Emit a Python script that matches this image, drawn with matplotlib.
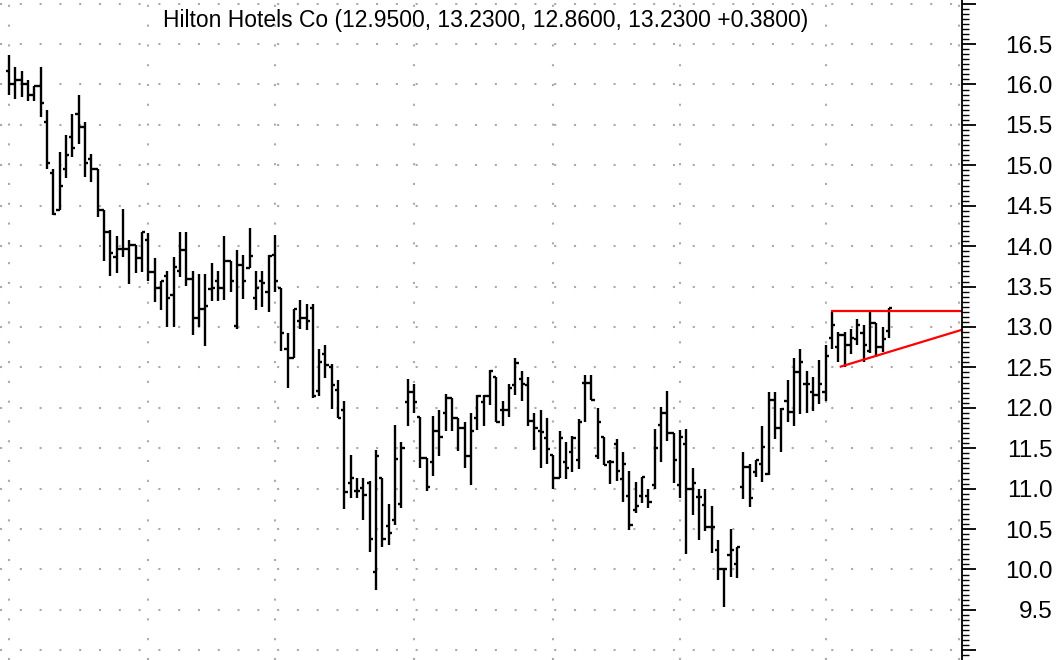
import numpy as np
import matplotlib
matplotlib.use('Agg')
import matplotlib.pyplot as plt
from matplotlib.ticker import MultipleLocator, FixedLocator

plt.rcParams['font.family'] = ['Liberation Sans', 'DejaVu Sans']

title = 'Hilton Hotels Co (12.9500, 13.2300, 12.8600, 13.2300 +0.3800)'

opens = [16.17, 16.0, 16.06, 16.0, 15.87, 15.98, 15.54, 14.91, 14.45, 14.96,
         15.35, 15.63, 15.48, 15.08, 14.96, 14.45, 14.17, 13.86, 13.96, 13.96,
         14.01, 13.85, 14.08, 13.68, 13.48, 13.63, 13.4, 13.69, 13.95, 13.59,
         13.11, 13.22, 13.47, 13.57, 13.48, 13.81, 13.01, 13.77, 13.73, 13.36,
         13.57, 13.43, 13.89, 13.48, 12.73, 12.62, 13.08, 13.11, 13.24, 12.21,
         12.67, 12.5, 12.22, 11.97, 11.07, 10.97, 11.01, 11.07, 9.97, 11.13,
         10.54, 10.61, 10.81, 12.07, 12.19, 11.89, 11.38, 11.33, 11.71, 11.93,
         12.12, 11.88, 11.75, 11.4, 11.88, 12.07, 12.15, 12.38, 11.97, 11.97,
         12.28, 12.36, 12.28, 11.84, 11.71, 11.63, 11.41, 11.13, 11.33, 11.45,
         11.35, 12.31, 12.31, 11.4, 11.64, 11.33, 11.55, 11.12, 10.91, 10.74,
         10.91, 10.91, 11.04, 11.79, 11.94, 11.69, 11.04, 11.55, 11.0, 10.9,
         10.8, 10.53, 10.24, 10.01, 10.18, 10.07, 11.02, 11.27, 11.2, 11.3,
         11.18, 12.1, 11.75, 12.09, 11.95, 12.44, 12.3, 12.2, 12.16, 12.19,
         12.86, 12.75, 12.9, 12.78, 12.85, 12.92, 12.7, 13.05, 12.75, 12.95]
highs = [16.37, 16.22, 16.17, 16.06, 15.98, 16.22, 15.68, 14.96, 15.17, 15.37,
         15.63, 15.87, 15.54, 15.14, 14.96, 14.45, 14.2, 14.12, 14.46, 14.08,
         14.01, 14.17, 14.16, 13.85, 13.57, 13.69, 13.86, 14.17, 14.17, 13.69,
         13.66, 13.66, 13.79, 13.69, 14.12, 13.81, 13.95, 13.89, 14.22, 13.69,
         13.69, 13.89, 14.14, 13.48, 12.92, 13.22, 13.33, 13.29, 13.28, 12.73,
         12.78, 12.54, 12.34, 12.09, 11.42, 11.13, 11.13, 11.09, 11.48, 11.13,
         10.81, 11.79, 11.58, 12.36, 12.29, 11.89, 11.38, 11.9, 11.97, 12.17,
         12.12, 11.88, 11.83, 11.93, 12.16, 12.16, 12.47, 12.38, 12.08, 12.3,
         12.62, 12.45, 12.38, 11.93, 11.97, 11.88, 11.41, 11.71, 11.58, 11.65,
         11.86, 12.4, 12.4, 12.0, 11.64, 11.35, 11.62, 11.45, 11.22, 11.08,
         11.15, 11.0, 11.74, 12.01, 12.21, 11.69, 11.72, 11.74, 11.26, 11.0,
         11.0, 10.79, 10.37, 10.01, 10.5, 10.28, 11.45, 11.3, 11.36, 11.78,
         12.2, 12.2, 12.0, 12.35, 12.62, 12.73, 12.46, 12.38, 12.59, 12.78,
         13.19, 12.94, 12.94, 12.97, 13.1, 13.02, 13.18, 13.05, 13.0, 13.23]
lows = [15.87, 15.82, 15.85, 15.79, 15.79, 15.6, 14.96, 14.38, 14.45, 14.84,
        15.1, 15.26, 14.86, 14.79, 14.36, 13.81, 13.63, 13.67, 13.86, 13.53,
        13.67, 13.68, 13.57, 13.31, 13.21, 13.0, 13.0, 13.62, 13.51, 12.9,
        13.0, 12.77, 13.32, 13.32, 13.33, 13.43, 12.98, 13.35, 13.73, 13.21,
        13.25, 13.19, 13.43, 12.7, 12.24, 12.62, 12.97, 12.96, 12.12, 12.14,
        12.37, 11.99, 11.87, 10.75, 10.88, 10.88, 10.61, 10.21, 9.75, 10.28,
        10.3, 10.55, 10.76, 11.78, 11.93, 11.26, 10.97, 11.16, 11.4, 11.71,
        11.71, 11.47, 11.25, 11.04, 11.73, 11.78, 12.04, 11.82, 11.78, 11.89,
        12.16, 12.08, 11.78, 11.48, 11.26, 11.3, 11.0, 11.13, 11.12, 11.21,
        11.24, 11.82, 12.1, 11.37, 11.29, 11.06, 11.09, 10.83, 10.49, 10.7,
        10.82, 10.76, 11.0, 11.33, 11.59, 11.07, 10.88, 10.19, 10.68, 10.36,
        10.47, 10.2, 9.87, 9.54, 9.91, 9.89, 10.87, 10.77, 11.14, 11.08,
        11.17, 11.62, 11.45, 11.83, 11.78, 11.92, 11.93, 11.96, 12.05, 12.08,
        12.73, 12.57, 12.5, 12.67, 12.78, 12.57, 12.68, 12.63, 12.69, 12.86]
closes = [16.0, 16.06, 16.0, 15.87, 15.98, 15.77, 15.03, 14.4, 14.74, 15.13,
          15.22, 15.48, 15.03, 14.96, 14.45, 14.17, 13.92, 13.96, 13.96, 14.01,
          13.85, 14.17, 13.68, 13.48, 13.57, 13.36, 13.74, 13.95, 13.59, 13.11,
          13.22, 13.26, 13.48, 13.48, 13.81, 13.57, 13.77, 13.57, 13.88, 13.48,
          13.55, 13.88, 13.57, 12.92, 12.62, 13.22, 13.11, 13.07, 12.14, 12.57,
          12.53, 12.28, 11.87, 10.96, 11.13, 10.97, 10.92, 10.38, 11.4, 10.38,
          10.45, 11.37, 11.5, 12.19, 12.07, 11.38, 11.02, 11.71, 11.64, 12.12,
          11.88, 11.75, 11.4, 11.71, 12.15, 12.15, 12.45, 11.83, 11.97, 12.24,
          12.55, 12.3, 11.84, 11.75, 11.7, 11.49, 11.13, 11.63, 11.25, 11.63,
          11.82, 12.31, 12.1, 11.83, 11.29, 11.33, 11.22, 11.3, 10.55, 10.79,
          11.14, 10.83, 11.5, 11.94, 11.69, 11.36, 11.64, 11.0, 11.07, 10.9,
          10.53, 10.53, 10.01, 10.01, 10.24, 10.28, 11.27, 10.88, 11.35, 11.52,
          12.1, 11.75, 11.98, 11.95, 12.44, 12.57, 12.29, 12.16, 12.29, 12.64,
          13.02, 12.9, 12.78, 12.86, 13.02, 12.78, 13.05, 12.75, 12.85, 13.23]

# first trading day of each month (bar index)
month_starts = [0, 22, 42, 64, 86, 106, 129, 150]

# hand drawn trend lines
resist_x = [130, 152]
resist_y = [13.2, 13.2]
support_x = [131.4, 152]
support_y = [12.51, 13.0]

fig = plt.figure(figsize=(10.61, 6.6), dpi=100)
ax = fig.add_axes([0, 0, 962 / 1061, 1])

x = np.arange(len(opens))
tick = 0.5
ax.vlines(x, lows, highs, color='black', lw=1.7)
ax.hlines(opens, x - tick, x, color='black', lw=1.7)
ax.hlines(closes, x, x + tick, color='black', lw=1.7)

ax.plot(resist_x, resist_y, color='red', lw=1.6)
ax.plot(support_x, support_y, color='red', lw=1.6)

ax.set_xlim(-1.42, 150.55)
ax.set_ylim(8.88, 17.045)

# dotted grid
for m in month_starts:
    ax.axvline(m, color='#aaaaaa', lw=1.5, dashes=(1.0, 8.5), zorder=0)
for v in np.arange(9.0, 17.01, 0.5):
    ax.axhline(v, color='#aaaaaa', lw=1.5, dashes=(1.0, 8.5), zorder=0)

for s in ['left', 'top', 'bottom']:
    ax.spines[s].set_visible(False)
ax.spines['right'].set_linewidth(1.3)
ax.set_xticks([])

ax.yaxis.tick_right()
yt = np.arange(9.0, 17.01, 0.5)
ax.yaxis.set_major_locator(FixedLocator(yt))
ax.set_yticklabels(['' if (v < 9.4 or v > 16.6) else f'{v:.1f}' for v in yt], fontsize=17.5)
ax.yaxis.set_minor_locator(MultipleLocator(0.0625))
ax.tick_params(axis='y', which='major', length=10, width=1.3, pad=55)
ax.tick_params(axis='y', which='minor', length=5, width=1.0)
for t in ax.get_yticklabels():
    t.set_horizontalalignment('right')

fig.text(486 / 1061, 1 - 21 / 660, title, ha='center', va='center', fontsize=16.5)

fig.savefig('out.png', dpi=100)
